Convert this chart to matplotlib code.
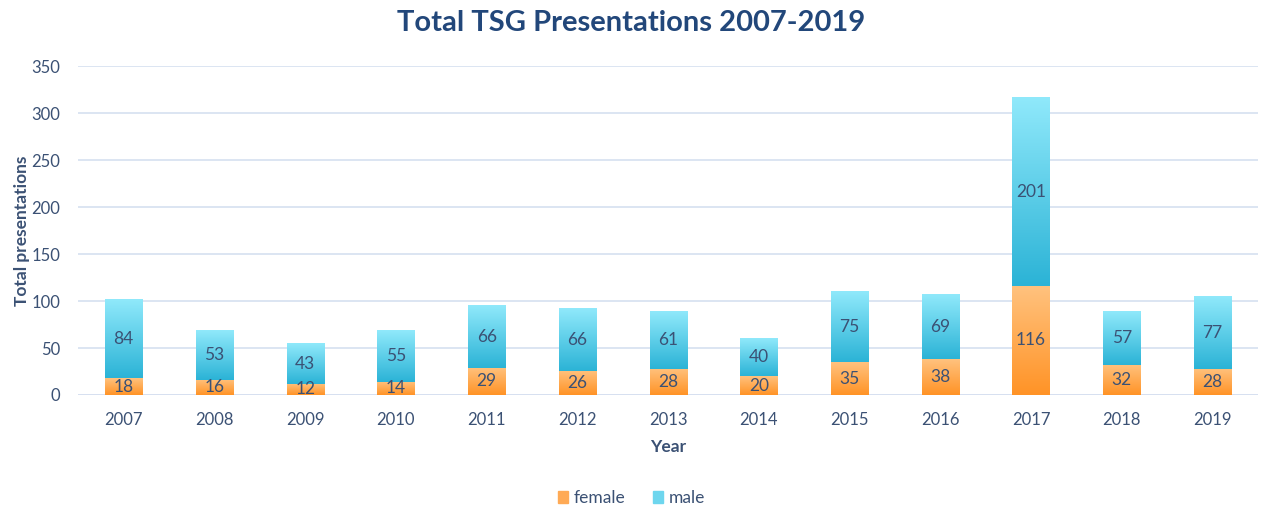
import numpy as np
import matplotlib.pyplot as plt
from matplotlib.colors import LinearSegmentedColormap
from matplotlib.patches import Patch

years = ['2007', '2008', '2009', '2010', '2011', '2012', '2013',
         '2014', '2015', '2016', '2017', '2018', '2019']
female = [18, 16, 12, 14, 29, 26, 28, 20, 35, 38, 116, 32, 28]
male = [84, 53, 43, 55, 66, 66, 61, 40, 75, 69, 201, 57, 77]

plt.rcParams['font.family'] = ['Lato', 'DejaVu Sans']
txt = '#3B5174'
grid_col = '#D6E0F0'

fig = plt.figure(figsize=(12.63, 5.09), dpi=100)
ax = fig.add_axes([0.062, 0.224, 0.934, 0.646])

x = np.arange(len(years))
b1 = ax.bar(x, female, width=0.41, color='#FFAA55', zorder=2)
b2 = ax.bar(x, male, width=0.41, bottom=female, color='#5FD0EC', zorder=2)

# vertical gradients inside each bar
grad_f = LinearSegmentedColormap.from_list('f', ['#FF9326', '#FFC27E'])
grad_m = LinearSegmentedColormap.from_list('m', ['#2BB3D6', '#90E9FB'])
g = np.linspace(0, 1, 256).reshape(-1, 1)
for bars, cmap in [(b1, grad_f), (b2, grad_m)]:
    for p in bars:
        x0, y0 = p.get_x(), p.get_y()
        w, h = p.get_width(), p.get_height()
        ax.imshow(g, cmap=cmap, origin='lower', aspect='auto',
                  extent=[x0, x0 + w, y0, y0 + h], zorder=2.5,
                  interpolation='bilinear')

for i in range(len(years)):
    ax.text(x[i], female[i] / 2, str(female[i]), ha='center', va='center',
            fontsize=12.5, color=txt, zorder=3)
    ax.text(x[i], female[i] + male[i] / 2, str(male[i]), ha='center', va='center',
            fontsize=12.5, color=txt, zorder=3)

ax.set_xlim(-0.5, len(years) - 0.5)
ax.set_ylim(0, 350)
ax.set_yticks(range(0, 351, 50))
ax.set_xticks(x)
ax.set_xticklabels(years)
ax.tick_params(axis='x', length=0, labelsize=12, colors=txt, pad=12)
ax.tick_params(axis='y', length=0, labelsize=12, colors=txt, pad=13)
ax.yaxis.grid(True, color=grid_col, linewidth=1.2, zorder=0)
for s in ax.spines.values():
    s.set_visible(False)
ax.axhline(0, color=grid_col, linewidth=1.2, zorder=1)

ax.set_xlabel('Year', fontsize=12.5, fontweight='bold', color=txt, labelpad=8)
ax.set_ylabel('Total presentations', fontsize=12.5, fontweight='bold', color=txt, labelpad=1)
fig.suptitle('Total TSG Presentations 2007-2019', fontsize=21, fontweight='bold',
             color='#22477A', y=0.98)

handles = [Patch(color='#FFAA55', label='female'), Patch(color='#6ED6EE', label='male')]
leg = fig.legend(handles=handles, loc='center', bbox_to_anchor=(0.5, 0.022), ncol=2,
                 frameon=False, fontsize=12.5, handlelength=0.6, handleheight=0.7,
                 handletextpad=0.3, columnspacing=1.6)
for t in leg.get_texts():
    t.set_color(txt)

fig.savefig('out.png', dpi=100)
